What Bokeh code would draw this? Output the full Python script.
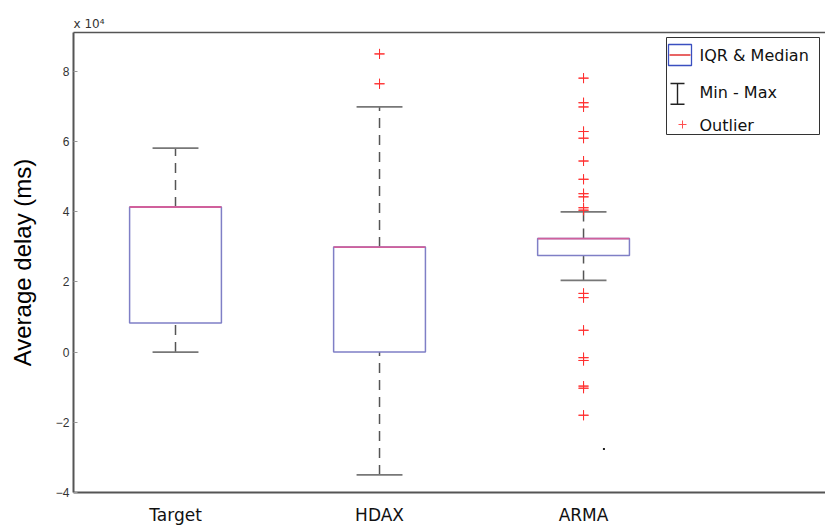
import numpy as np
from bokeh.plotting import figure
from bokeh.models import Range1d, FixedTicker, LinearAxis, Label, BoxAnnotation, Title
from bokeh.embed import file_html
from bokeh.resources import INLINE

# ---------------- data (ms) ----------------
categories = ["Target", "HDAX", "ARMA"]
q1 = [8300, 0, 27500]
q3 = [41300, 29900, 32300]
medians = [41300, 29900, 32300]
whisker_low = [0, -35000, 20400]
whisker_high = [58100, 69800, 39900]
hdax_outliers = [84900, 76400]
arma_outliers = [78000, 71000, 69800, 62800, 60900, 54400, 49200, 45100, 44200,
                 41100, 40400, 16700, 15500, 6200, -1600, -2400, -9700, -10300, -18000]
stray_x = [3.1]
stray_y = [-27600]
y_ticks = [-40000, -20000, 0, 20000, 40000, 60000, 80000]
y_tick_labels = ["\u22124", "\u22122", "0", "2", "4", "6", "8"]
exponent_text = "x 10\u2074"

pos = np.arange(1, len(categories) + 1).astype(float)
box_w = 0.45
cap_w = 0.225

out_x = [pos[1]] * len(hdax_outliers) + [pos[2]] * len(arma_outliers)
out_y = hdax_outliers + arma_outliers

p = figure(width=825, height=527, output_backend="svg", toolbar_location=None,
           x_range=Range1d(0.5, 4.186), y_range=Range1d(-40000, 91000),
           min_border_left=73, min_border_right=0, min_border_top=32, min_border_bottom=35)
p.outline_line_color = None
p.xgrid.visible = False
p.ygrid.visible = False
p.background_fill_color = "white"

# axes
xa = p.xaxis[0]
xa.ticker = FixedTicker(ticks=list(pos))
xa.major_label_overrides = {float(v): c for v, c in zip(pos, categories)}
xa.major_label_overrides.update({int(v): c for v, c in zip(pos, categories)})
xa.major_tick_line_color = None
xa.minor_tick_line_color = None
xa.axis_line_color = "#555555"
xa.axis_line_width = 2
xa.major_label_text_font = "DejaVu Sans"
xa.major_label_text_font_size = "17px"
xa.major_label_text_color = "#111111"
xa.major_label_standoff = 6

ya = p.yaxis[0]
ya.ticker = FixedTicker(ticks=y_ticks)
ya.major_label_overrides = {v: l for v, l in zip(y_ticks, y_tick_labels)}
ya.major_tick_in = 4
ya.major_tick_out = 0
ya.major_tick_line_color = "#999999"
ya.minor_tick_line_color = None
ya.axis_line_color = "#555555"
ya.axis_line_width = 2
ya.major_label_text_font = "Liberation Sans"
ya.major_label_text_font_size = "12px"
ya.major_label_text_color = "#333333"
ya.major_label_standoff = 4
ya.axis_label = "Average delay (ms)"
ya.axis_label_text_font = "Liberation Sans"
ya.axis_label_text_font_size = "24px"
ya.axis_label_text_font_style = "normal"
ya.axis_label_text_color = "#000000"
ya.axis_label_standoff = 17

top_axis = LinearAxis(ticker=FixedTicker(ticks=[]), major_tick_line_color=None,
                      minor_tick_line_color=None, major_label_text_font_size="0px",
                      axis_line_color="#555555", axis_line_width=1.5)
p.add_layout(top_axis, "above")
p.add_layout(Title(text=exponent_text, align="left", text_font="DejaVu Sans",
                   text_font_size="12px", text_font_style="normal",
                   text_color="#333333", standoff=4, offset=0), "above")

# whiskers (dashed)
p.segment(x0=pos, y0=q3, x1=pos, y1=whisker_high, line_color="#555555",
          line_width=1.5, line_dash="10 7")
p.segment(x0=pos, y0=whisker_low, x1=pos, y1=q1, line_color="#555555",
          line_width=1.5, line_dash="10 7")
# caps
p.segment(x0=pos - cap_w / 2, y0=whisker_high, x1=pos + cap_w / 2, y1=whisker_high,
          line_color="#777777", line_width=1.8)
p.segment(x0=pos - cap_w / 2, y0=whisker_low, x1=pos + cap_w / 2, y1=whisker_low,
          line_color="#777777", line_width=1.8)
# boxes
p.quad(left=pos - box_w / 2, right=pos + box_w / 2, bottom=q1, top=q3,
       fill_color="white", line_color="#7f7fc6", line_width=1.5)
# medians
p.segment(x0=pos - box_w / 2, y0=medians, x1=pos + box_w / 2, y1=medians,
          line_color="#d0609c", line_width=1.8)
# outliers (drawn twice so every marker gets the red stroke in the SVG backend)
for _ in range(2):
    p.scatter(x=out_x, y=out_y, marker="cross", size=10,
              line_color="#ff3030", line_width=1.0)
p.scatter(x=stray_x, y=stray_y, marker="square", size=2, fill_color="#222222",
          line_color=None)


# legend (drawn in screen units relative to the frame)
def sbox(left, right, bottom, top, fill="white", line=None, lw=1):
    return BoxAnnotation(left=left, right=right, bottom=bottom, top=top,
                         left_units="screen", right_units="screen",
                         bottom_units="screen", top_units="screen",
                         fill_color=fill, fill_alpha=1.0,
                         line_color=line, line_alpha=1.0, line_width=lw)


p.add_layout(sbox(593, 746, 358, 455, fill="white", line="#333333", lw=1))
p.add_layout(sbox(595, 618, 427, 448, fill="white", line="#3a4fc0", lw=1.3))
p.add_layout(sbox(596, 617, 436.8, 438.2, fill="#e03030"))
p.add_layout(sbox(603.3, 604.7, 388, 409, fill="#222222"))
p.add_layout(sbox(597, 611, 408.3, 409.7, fill="#222222"))
p.add_layout(sbox(597, 611, 387.6, 389.0, fill="#222222"))
p.add_layout(sbox(605, 613, 367.5, 368.5, fill="#ff5050"))
p.add_layout(sbox(608.5, 609.5, 364, 372, fill="#ff5050"))

legend_texts = ["IQR & Median", "Min - Max", "Outlier"]
legend_y = [437, 400, 367]
for t, yy in zip(legend_texts, legend_y):
    p.add_layout(Label(x=626, y=yy, x_units="screen", y_units="screen", text=t,
                       text_font="DejaVu Sans", text_font_size="16px",
                       text_color="#111111", text_baseline="middle"))

open("out.html", "w").write(file_html(p, INLINE))
